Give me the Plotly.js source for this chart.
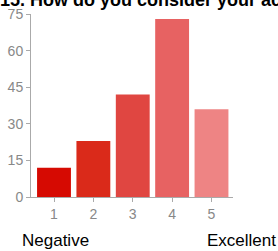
<!DOCTYPE html>
<html>
<head>
<meta charset="utf-8">
<script src="https://cdn.plot.ly/plotly-3.0.1.min.js"></script>
<style>html,body{margin:0;padding:0;background:#fff;}#chart{width:278px;height:251px;}</style>
</head>
<body>
<div id="chart"></div>
<script>
var categories = ["1", "2", "3", "4", "5"];
var counts = [12, 23, 42, 73, 36];
var barColors = ["#d60a02", "#da2a1a", "#e04641", "#e76262", "#ee8484"];
var yTicks = [0, 15, 30, 45, 60, 75];
var titleText = "15. How do you consider your academic performance?";
var lowLabel = "Negative";
var highLabel = "Excellent";

var trace = {
  type: "bar",
  x: categories.map(function(c, i){ return i; }),
  y: counts,
  marker: {color: barColors, line: {width: 0}},
  width: 0.86,
  hoverinfo: "none"
};

var layout = {
  width: 278, height: 251,
  margin: {l: 31, r: 45, t: 14, b: 54, pad: 0},
  paper_bgcolor: "#fff", plot_bgcolor: "#fff",
  showlegend: false,
  font: {family: "Arial, 'Liberation Sans', sans-serif", size: 12, color: "#888"},
  xaxis: {
    range: [-0.584, 4.546],
    tickmode: "array",
    tickvals: [0,1,2,3,4],
    ticktext: categories,
    showline: true, linecolor: "#aaa", linewidth: 1,
    ticks: "outside", ticklen: 4, tickcolor: "#aaa",
    showgrid: false, zeroline: false,
    tickfont: {size: 14, color: "#888"},
    fixedrange: true
  },
  yaxis: {
    range: [0, 75],
    tickmode: "array",
    tickvals: yTicks,
    showline: true, linecolor: "#aaa", linewidth: 1,
    ticks: "outside", ticklen: 4, tickcolor: "#aaa",
    showgrid: false, zeroline: false,
    tickfont: {size: 14, color: "#888"},
    fixedrange: true
  },
  annotations: [
    {text: "<b>" + titleText + "</b>", xref: "paper", yref: "paper", x: -0.165, y: 1.0, xanchor: "left", yanchor: "bottom", yshift: 2, showarrow: false, font: {size: 18, color: "#000"}},
    {text: lowLabel, xref: "paper", yref: "paper", x: -0.055, y: -0.235, xanchor: "left", yanchor: "middle", showarrow: false, font: {size: 17, color: "#000"}},
    {text: highLabel, xref: "paper", yref: "paper", x: 1.223, y: -0.235, xanchor: "right", yanchor: "middle", showarrow: false, font: {size: 17, color: "#000"}}
  ]
};

Plotly.newPlot("chart", [trace], layout, {displayModeBar: false, staticPlot: true});
</script>
</body>
</html>
